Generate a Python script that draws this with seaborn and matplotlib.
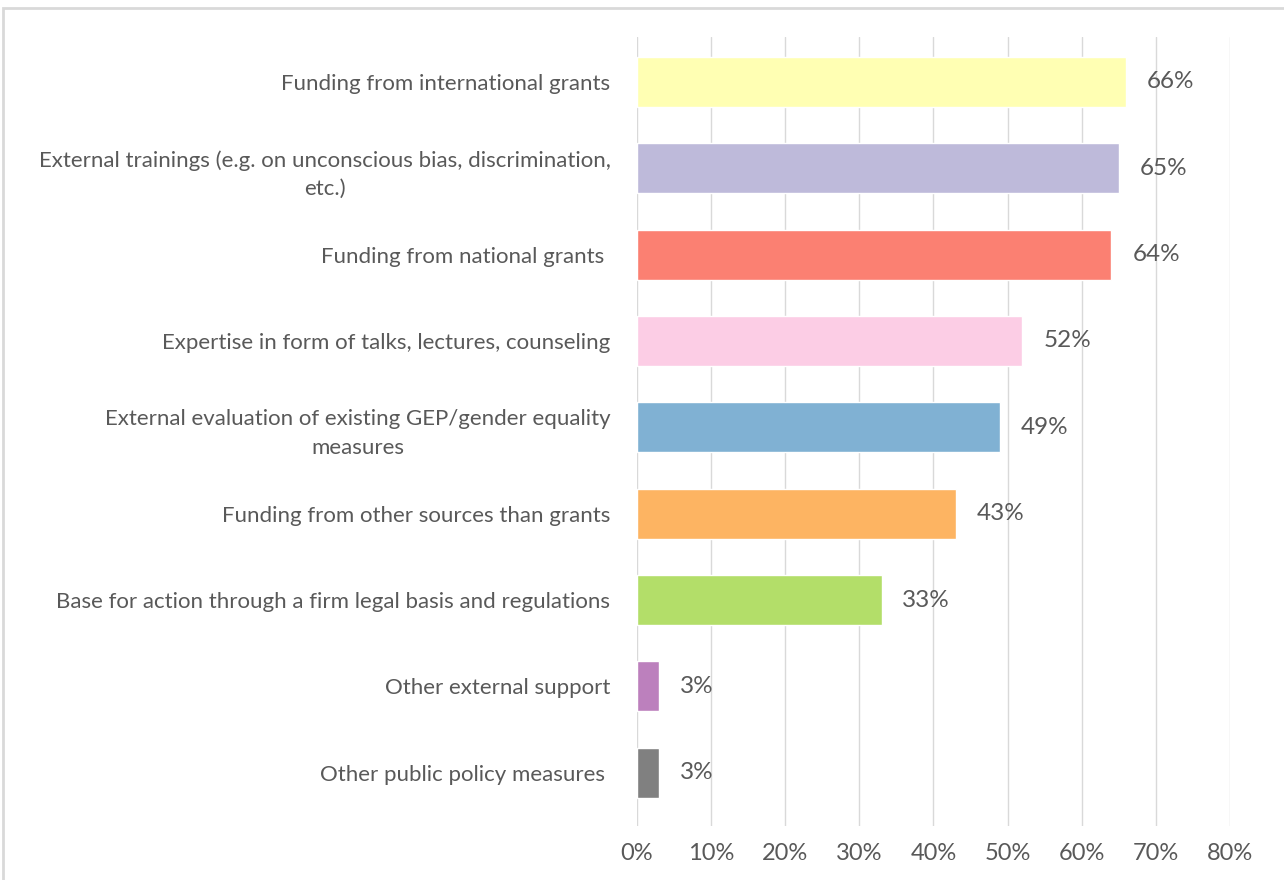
import matplotlib.pyplot as plt
import seaborn as sns
import pandas as pd
from matplotlib.patches import Rectangle

# data
labels = [
    "Funding from international grants",
    "External trainings (e.g. on unconscious bias, discrimination,\netc.)",
    "Funding from national grants ",
    "Expertise in form of talks, lectures, counseling",
    "External evaluation of existing GEP/gender equality\nmeasures",
    "Funding from other sources than grants",
    "Base for action through a firm legal basis and regulations",
    "Other external support",
    "Other public policy measures ",
]
values = [66, 65, 64, 52, 49, 43, 33, 3, 3]
colors = ["#FFFFB3", "#BEBADA", "#FB8072", "#FCCDE5", "#80B1D3",
          "#FDB462", "#B3DE69", "#BC80BD", "#808080"]
ticks = [0, 10, 20, 30, 40, 50, 60, 70, 80]

df = pd.DataFrame({"label": labels, "value": values})

sns.set_style("white")
plt.rcParams['font.family'] = ['Lato', 'DejaVu Sans']
txt = "#595959"

fig = plt.figure(figsize=(12.84, 8.8), dpi=100)
ax = fig.add_axes([0.496, 0.061, 0.462, 0.897])

sns.barplot(data=df, x="value", y="label", hue="label", palette=colors,
            legend=False, width=0.58, orient="h", ax=ax, saturation=1)

for c in ax.containers:
    ax.bar_label(c, labels=[f"{v:.0f}%" for v in c.datavalues], padding=15,
                 fontsize=17.5, color=txt)

ax.set_xlim(0, 80)
ax.set_ylim(8.62, -0.52)
ax.set_xticks(ticks)
ax.set_xticklabels([f"{t}%" for t in ticks], fontsize=17, color=txt)
ax.tick_params(axis="y", labelsize=16, labelcolor=txt, length=0, pad=19)
ax.tick_params(axis="x", length=0, pad=12)
for t in ax.get_yticklabels():
    t.set_multialignment("center")
    t.set_linespacing(1.55)
ax.grid(axis="x", color="#D9D9D9", linewidth=1)
ax.set_axisbelow(True)
for s in ax.spines.values():
    s.set_visible(False)
ax.set_xlabel("")
ax.set_ylabel("")

# light frame around the chart area
fig.patches.append(Rectangle((3 / 1284, -0.01), 1.02, 1 - 8 / 880 + 0.01,
                             transform=fig.transFigure, fill=False,
                             edgecolor="#D9D9D9", linewidth=2))

fig.savefig("out.png", dpi=100)
